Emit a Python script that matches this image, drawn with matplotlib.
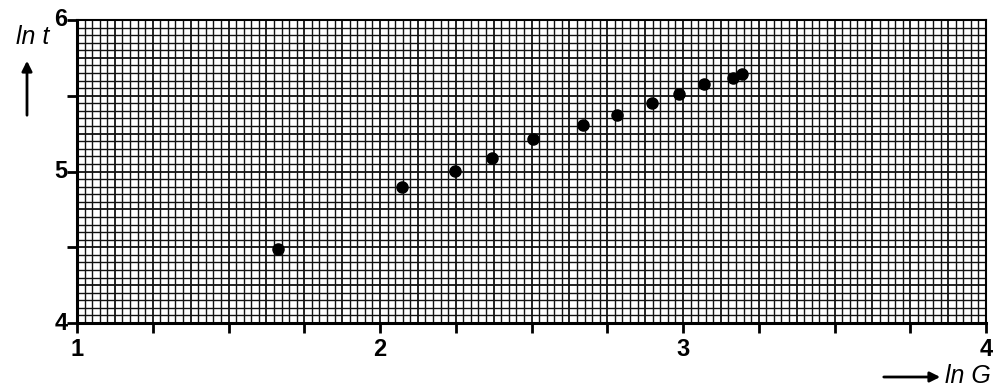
import numpy as np
import matplotlib
matplotlib.use("Agg")
import matplotlib.pyplot as plt

ln_G = [1.664, 2.074, 2.247, 2.371, 2.506, 2.671, 2.781, 2.899, 2.986, 3.069, 3.166, 3.196]
ln_t = [4.486, 4.900, 5.005, 5.087, 5.215, 5.310, 5.373, 5.454, 5.512, 5.578, 5.619, 5.642]
x_labels = ["1", "2", "3", "4"]
y_labels = ["4", "5", "6"]

fig = plt.figure(figsize=(9.99, 3.88), dpi=100)
ax = fig.add_axes([77/999, 1-323/388, 909/999, 303/388])
ax.set_xlim(1, 4)
ax.set_ylim(4, 6)

# graph paper grid
xs = np.arange(0, 121) * 0.025 + 1
for i, xv in enumerate(xs):
    lw = 1.3 if i % 5 == 0 else 1.0
    ax.axvline(xv, color="#111111", lw=lw, zorder=1)
ys = np.arange(0, 41) * 0.05 + 4
for i, yv in enumerate(ys):
    lw = 1.3 if i % 5 == 0 else 1.0
    ax.axhline(yv, color="#111111", lw=lw, zorder=1)

ax.plot(ln_G, ln_t, "o", color="black", ms=8, zorder=3)

for s in ax.spines.values():
    s.set_linewidth(1.5)
ax.spines["left"].set_linewidth(2.2)
ax.spines["bottom"].set_linewidth(2.2)

ax.set_xticks(np.arange(1, 4.01, 0.25))
ax.set_xticklabels([""] * 13)
ax.set_yticks([4, 4.5, 5, 5.5, 6])
ax.set_yticklabels([""] * 5)
ax.tick_params(direction="out", length=7, width=2, color="black")

fs = 17
for i, lab in enumerate(x_labels):
    ax.annotate(lab, xy=(1 + i, 4), xytext=(0, -11), textcoords="offset points",
                ha="center", va="top", fontsize=fs, fontweight="bold", family="Liberation Sans")
for i, lab in enumerate(y_labels):
    ax.annotate(lab, xy=(1, 4 + i), xytext=(-7, 0), textcoords="offset points",
                ha="right", va="center", fontsize=fs, fontweight="bold", family="Liberation Sans")

fig.text(33/999, 1-37/388, "ln t", fontsize=18, style="italic", ha="center", va="center",
         family="Liberation Sans")
fig.add_artist(matplotlib.patches.FancyArrowPatch((27/999, 1-118/388), (27/999, 1-58/388),
               transform=fig.transFigure, arrowstyle="-|>", mutation_scale=15, lw=2, color="black"))
fig.text(968/999, 1-376/388, "ln G", fontsize=18, style="italic", ha="center", va="center",
         family="Liberation Sans")
fig.add_artist(matplotlib.patches.FancyArrowPatch((881/999, 1-377/388), (943/999, 1-377/388),
               transform=fig.transFigure, arrowstyle="-|>", mutation_scale=15, lw=2, color="black"))

fig.savefig("out.png", dpi=100)
